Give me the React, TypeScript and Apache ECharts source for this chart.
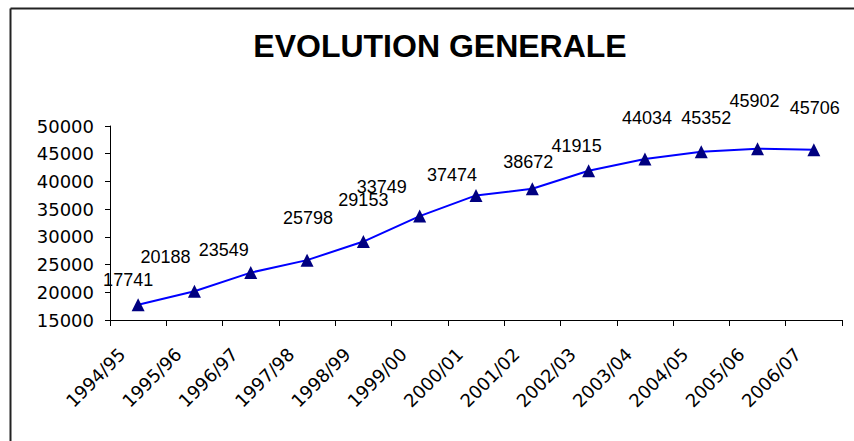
import React, { useEffect, useRef } from "react";
import * as echarts from "echarts";

const categories = [
  "1994/95", "1995/96", "1996/97", "1997/98", "1998/99", "1999/00", "2000/01",
  "2001/02", "2002/03", "2003/04", "2004/05", "2005/06", "2006/07",
];
const values = [17741, 20188, 23549, 25798, 29153, 33749, 37474, 38672, 41915, 44034, 45352, 45902, 45706];
const labelOffsets: [number, number][] = [
  [-10, -25], [-29, -34], [-27, -23], [1, -42], [0, -42], [-38, -29], [-24, -20],
  [-4, -27], [-12, -25], [2, -41], [5, -34], [-3, -48], [1, -42],
];
const titleText = "EVOLUTION GENERALE";

export default function App() {
  const ref = useRef<HTMLDivElement>(null);
  useEffect(() => {
    if (!ref.current) return;
    const chart = echarts.init(ref.current, null, { renderer: "svg" });
    chart.setOption({
      animation: false,
      backgroundColor: "#ffffff",
      title: {
        text: titleText,
        left: 435,
        textAlign: "center",
        top: 25,
        textStyle: { fontFamily: "Liberation Sans, Arial, sans-serif", fontWeight: "bold", fontSize: 32, color: "#000" },
      },
      graphic: [
        { type: "line", shape: { x1: 10.5, y1: 8.5, x2: 10.5, y2: 441 }, style: { stroke: "#222", lineWidth: 2 } },
        { type: "line", shape: { x1: 10.5, y1: 8.5, x2: 854, y2: 8.5 }, style: { stroke: "#222", lineWidth: 2 } },
      ],
      grid: { left: 110, right: 12, top: 126, bottom: 121, containLabel: false },
      xAxis: {
        type: "category",
        data: categories,
        boundaryGap: true,
        axisLine: { lineStyle: { color: "#000", width: 1 } },
        axisTick: { show: true, length: 6, lineStyle: { color: "#000" } },
        axisLabel: {
          rotate: 45,
          interval: 0,
          margin: 15,
          formatter: (v: string) => v + "\u00A0\u00A0\u00A0\u00A0",
          fontFamily: "DejaVu Sans, sans-serif",
          fontSize: 18,
          color: "#000",
        },
      },
      yAxis: {
        type: "value",
        min: 15000,
        max: 50000,
        interval: 5000,
        splitLine: { show: false },
        axisLine: { show: true, lineStyle: { color: "#000", width: 1 } },
        axisTick: { show: true, length: 5, lineStyle: { color: "#000" } },
        axisLabel: {
          margin: 16,
          formatter: (v: number) => String(v),
          fontFamily: "DejaVu Sans, sans-serif",
          fontSize: 18,
          color: "#000",
        },
      },
      series: [
        {
          type: "line",
          data: values.map((v, i) => ({
            value: v,
            label: { offset: labelOffsets[i] },
          })),
          lineStyle: { color: "#0000ff", width: 2 },
          itemStyle: { color: "#000080" },
          symbol: "triangle",
          symbolSize: 13,
          label: {
            show: true,
            position: "inside",
            fontFamily: "Liberation Sans, Arial, sans-serif",
            fontSize: 18,
            color: "#000",
          },
        },
      ],
    });
    return () => chart.dispose();
  }, []);
  return <div ref={ref} style={{ position: "fixed", left: 0, top: 0, width: 854, height: 441 }} />;
}
